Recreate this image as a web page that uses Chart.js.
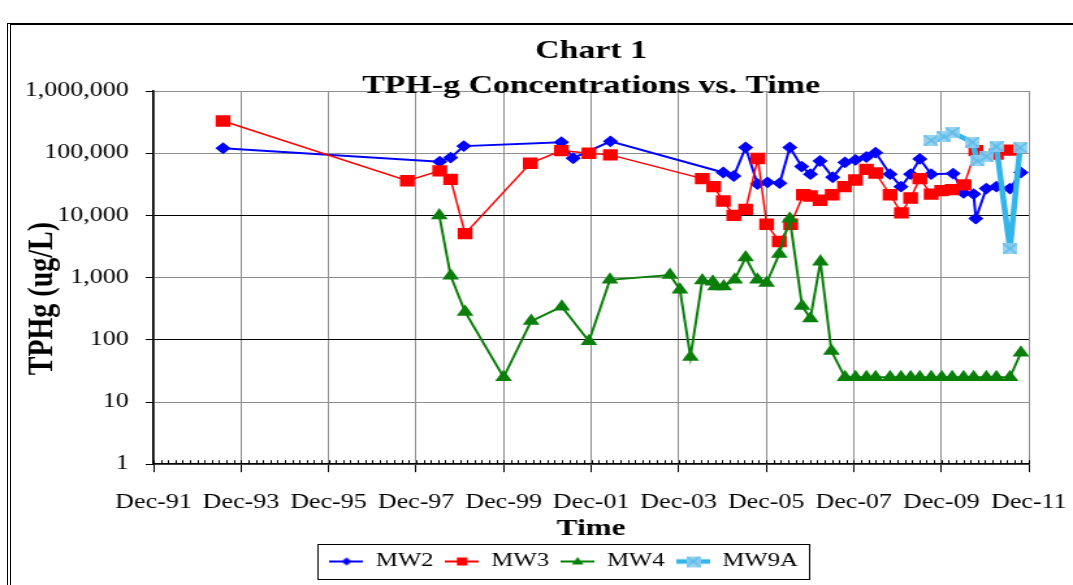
<!DOCTYPE html>
<html>
<head>
<meta charset="utf-8">
<title>Chart 1 - TPH-g Concentrations vs. Time</title>
<script src="https://cdn.jsdelivr.net/npm/chart.js@4.4.1/dist/chart.umd.min.js"></script>
<style>
  html, body { margin: 0; padding: 0; background: #fff; overflow: hidden; }
  /* the source picture is stretched sideways, so the chart is drawn narrow and widened */
  #wrap { position: absolute; left: 0; top: 0; width: 825px; height: 585px; transform: scaleX(1.3006); transform-origin: 0 0; }
  #frame { position: absolute; left: 7px; top: 23px; width: 1200px; height: 700px; border-left: 4px double #000; border-top: 2px solid #000; pointer-events: none; }
</style>
</head>
<body>
<div id="wrap"><canvas id="chart" width="825" height="585"></canvas></div>
<div id="frame"></div>
<script>
// sample dates as decimal years, concentrations in ug/L
const mw2Dates = [1993.51, 1998.46, 1998.71, 1999.01, 2001.24, 2001.51, 2002.36, 2004.94, 2005.18, 2005.45,
  2005.72, 2005.95, 2006.23, 2006.46, 2006.73, 2006.93, 2007.15, 2007.44, 2007.72, 2007.96,
  2008.21, 2008.42, 2008.75, 2009.00, 2009.22, 2009.43, 2009.69, 2010.19, 2010.43, 2010.66,
  2010.71, 2010.95, 2011.18, 2011.49, 2011.74];
const mw2Values = [120000, 73000, 85000, 130000, 150000, 83000, 155000, 49000, 43000, 124000,
  32000, 34000, 33000, 124000, 61000, 46000, 75000, 41000, 71000, 78000,
  87000, 102000, 46000, 29000, 46000, 81000, 46000, 47000, 23000, 22000,
  8900, 27000, 29000, 27000, 49000];

const mw3Dates = [1993.51, 1997.72, 1998.46, 1998.71, 1999.04, 2000.53, 2001.24, 2001.87, 2002.36, 2004.46,
  2004.72, 2004.94, 2005.18, 2005.45, 2005.73, 2005.93, 2006.22, 2006.48, 2006.77, 2006.93,
  2007.15, 2007.43, 2007.71, 2007.96, 2008.21, 2008.42, 2008.75, 2009.01, 2009.22, 2009.43,
  2009.69, 2009.93, 2010.17, 2010.44, 2010.71, 2011.18, 2011.49];
const mw3Values = [330000, 36000, 52000, 38000, 5100, 69000, 110000, 100000, 94000, 39000,
  29000, 17000, 10000, 12500, 82000, 7200, 3800, 7200, 21500, 20500,
  17500, 21500, 29000, 37000, 55000, 48000, 21500, 11000, 19000, 39000,
  22000, 25000, 26000, 31000, 110000, 97000, 112000];

const mw4Dates = [1998.45, 1998.71, 1999.04, 1999.92, 2000.55, 2001.25, 2001.87, 2002.35, 2003.72, 2003.95,
  2004.19, 2004.46, 2004.70, 2004.76, 2004.95, 2005.20, 2005.45, 2005.72, 2005.93, 2006.22,
  2006.46, 2006.74, 2006.93, 2007.16, 2007.41, 2007.72, 2007.96, 2008.21, 2008.42, 2008.75,
  2009.00, 2009.22, 2009.43, 2009.69, 2009.93, 2010.17, 2010.43, 2010.66, 2010.95, 2011.18,
  2011.49, 2011.74];
const mw4Values = [10000, 1070, 280, 25, 200, 340, 95, 920, 1100, 640,
  53, 900, 860, 720, 720, 925, 2100, 925, 820, 2400,
  8800, 350, 220, 1800, 66, 25, 25, 25, 25, 25,
  25, 25, 25, 25, 25, 25, 25, 25, 25, 25,
  25, 62];

const mw9aDates = [2009.69, 2009.98, 2010.17, 2010.63, 2010.74, 2010.95, 2011.18, 2011.49, 2011.72];
const mw9aValues = [160000, 185000, 215000, 150000, 75000, 88000, 128000, 2900, 123000];

const xTickValues = [1991.92, 1993.92, 1995.92, 1997.92, 1999.92, 2001.92, 2003.92, 2005.92, 2007.92, 2009.92, 2011.92];
const xTickLabels = ['Dec-91', 'Dec-93', 'Dec-95', 'Dec-97', 'Dec-99', 'Dec-01', 'Dec-03', 'Dec-05', 'Dec-07', 'Dec-09', 'Dec-11'];
const yTickValues = [1, 10, 100, 1000, 10000, 100000, 1000000];
const yDarkGrid = [100, 10000];

const FONT = "'Liberation Serif', 'Times New Roman', serif";

function points(dates, values) {
  return dates.map((d, i) => ({ x: d, y: values[i] }));
}

// MW9A marker: pale blue square with a cross
function crossBox() {
  const c = document.createElement('canvas');
  c.width = 11; c.height = 11;
  const g = c.getContext('2d');
  g.fillStyle = 'rgba(140,205,240,0.9)';
  g.fillRect(0, 0, 11, 11);
  g.strokeStyle = '#5ab8e6';
  g.lineWidth = 1.4;
  g.beginPath();
  g.moveTo(0.5, 0.5); g.lineTo(10.5, 10.5);
  g.moveTo(10.5, 0.5); g.lineTo(0.5, 10.5);
  g.stroke();
  return c;
}
const mw9aMarker = crossBox();

// legend icon: line segment with the marker in the middle
function legendIcon(color, lineWidth, shape) {
  const c = document.createElement('canvas');
  c.width = 26; c.height = 14;
  const g = c.getContext('2d');
  g.strokeStyle = color;
  g.lineWidth = lineWidth;
  g.beginPath(); g.moveTo(0, 7); g.lineTo(26, 7); g.stroke();
  g.fillStyle = color;
  g.beginPath();
  if (shape === 'diamond') {
    g.moveTo(13, 3); g.lineTo(17, 7); g.lineTo(13, 11); g.lineTo(9, 7);
  } else if (shape === 'square') {
    g.rect(9, 3, 8, 8);
  } else if (shape === 'triangle') {
    g.moveTo(13, 2.5); g.lineTo(17.5, 10); g.lineTo(8.5, 10);
  }
  g.closePath();
  g.fill();
  if (shape === 'cross') g.drawImage(mw9aMarker, 13 - 5.5, 7 - 5.5);
  return c;
}
const legendIcons = [
  legendIcon('#0000ff', 2, 'diamond'),
  legendIcon('#ff0000', 2, 'square'),
  legendIcon('#008000', 2, 'triangle'),
  legendIcon('#33b5e9', 4.5, 'cross')
];

// small ticks along the time axis every two months
const minorTicks = {
  id: 'minorTicks',
  afterDatasetsDraw(chart) {
    const xs = chart.scales.x;
    const y0 = chart.chartArea.bottom;
    const ctx = chart.ctx;
    const start = xTickValues[0], end = xTickValues[xTickValues.length - 1];
    ctx.save();
    ctx.strokeStyle = '#000';
    ctx.lineWidth = 1;
    ctx.beginPath();
    for (let k = 0; start + k / 6 <= end + 1e-6; k++) {
      const px = Math.round(xs.getPixelForValue(start + k / 6)) + 0.5;
      ctx.moveTo(px, y0);
      ctx.lineTo(px, y0 - 4);
    }
    ctx.stroke();
    ctx.restore();
  }
};

// legend sits a little right of the canvas centre, inside a thin box
const legendFrame = {
  id: 'legendFrame',
  afterLayout(chart) {
    const lg = chart.legend;
    lg.left += 38;
    lg.right += 38;
  },
  afterDraw(chart) {
    const boxes = chart.legend.legendHitBoxes;
    if (!boxes || !boxes.length) return;
    const left = Math.min(...boxes.map(b => b.left)) - 9;
    const right = Math.max(...boxes.map(b => b.left + b.width)) + 9;
    const top = boxes[0].top - 8;
    const bottom = boxes[0].top + boxes[0].height + 8;
    const ctx = chart.ctx;
    ctx.save();
    ctx.strokeStyle = '#000';
    ctx.lineWidth = 1;
    ctx.strokeRect(Math.round(left) + 0.5, Math.round(top) + 0.5, Math.round(right - left), Math.round(bottom - top));
    ctx.restore();
  }
};

new Chart(document.getElementById('chart'), {
  type: 'line',
  data: {
    datasets: [
      {
        label: 'MW2',
        data: points(mw2Dates, mw2Values),
        borderColor: '#0000ff',
        backgroundColor: '#0000ff',
        borderWidth: 2,
        pointStyle: 'rectRot',
        pointRadius: 4.5,
        order: 4
      },
      {
        label: 'MW3',
        data: points(mw3Dates, mw3Values),
        borderColor: '#ff0000',
        backgroundColor: '#ff0000',
        borderWidth: 1.5,
        pointStyle: 'rect',
        pointRadius: 7,
        order: 3
      },
      {
        label: 'MW4',
        data: points(mw4Dates, mw4Values),
        borderColor: '#0a7f0a',
        backgroundColor: '#0a7f0a',
        borderWidth: 2,
        pointStyle: 'triangle',
        pointRadius: 5.5,
        order: 2
      },
      {
        label: 'MW9A',
        data: points(mw9aDates, mw9aValues),
        borderColor: '#33b5e9',
        backgroundColor: '#8ccdf0',
        borderWidth: 4.5,
        pointStyle: mw9aMarker,
        pointRadius: 6,
        order: 1
      }
    ]
  },
  options: {
    responsive: false,
    animation: false,
    events: [],
    layout: { padding: { left: 0, right: 34, top: 0, bottom: 4 } },
    elements: { line: { tension: 0, fill: false } },
    plugins: {
      tooltip: { enabled: false },
      title: {
        display: true,
        fullSize: false,
        text: ['Chart 1', 'TPH-g Concentrations vs. Time'],
        color: '#000',
        font: { family: FONT, size: 26, weight: 'bold', lineHeight: 35 / 26 },
        padding: { top: 34, bottom: -13 }
      },
      legend: {
        position: 'bottom',
        labels: {
          usePointStyle: true,
          pointStyleWidth: 26,
          padding: 9,
          color: '#000',
          font: { family: FONT, size: 19 },
          generateLabels(chart) {
            const items = Chart.defaults.plugins.legend.labels.generateLabels(chart);
            items.forEach(it => { it.pointStyle = legendIcons[it.datasetIndex]; });
            return items;
          },
          sort: (a, b) => a.datasetIndex - b.datasetIndex
        }
      }
    },
    scales: {
      x: {
        type: 'linear',
        min: xTickValues[0],
        max: xTickValues[xTickValues.length - 1],
        afterBuildTicks: s => { s.ticks = xTickValues.map(v => ({ value: v })); },
        afterFit: s => { s.paddingLeft = 0; s.paddingRight = 0; },
        ticks: {
          callback: (v, i) => xTickLabels[i],
          color: '#000',
          font: { family: FONT, size: 20 },
          padding: 19,
          maxRotation: 0,
          autoSkip: false
        },
        grid: { color: '#8f8f8f', tickColor: '#000', tickLength: 8 },
        border: { color: '#000', width: 1.5 },
        title: {
          display: true,
          text: 'Time',
          color: '#000',
          font: { family: FONT, size: 24, weight: 'bold' },
          padding: { top: -20, bottom: 0 }
        }
      },
      y: {
        type: 'logarithmic',
        min: yTickValues[0],
        max: yTickValues[yTickValues.length - 1],
        afterBuildTicks: s => { s.ticks = yTickValues.map(v => ({ value: v })); },
        afterFit: s => { s.width = 118; },
        ticks: {
          callback: v => Number(v).toLocaleString('en-US'),
          color: '#000',
          font: { family: FONT, size: 20 },
          padding: 13
        },
        grid: {
          color: c => (c.tick && yDarkGrid.includes(c.tick.value)) ? '#000' : '#8f8f8f',
          tickColor: '#000',
          tickLength: 6
        },
        border: { color: '#000', width: 1.5 },
        title: {
          display: true,
          text: 'TPHg (ug/L)\u00a0\u00a0\u00a0\u00a0\u00a0\u00a0',
          color: '#000',
          font: { family: FONT, size: 28, weight: 'bold' },
          padding: { top: 16, bottom: 0 }
        }
      }
    }
  },
  plugins: [minorTicks, legendFrame]
});
</script>
</body>
</html>
